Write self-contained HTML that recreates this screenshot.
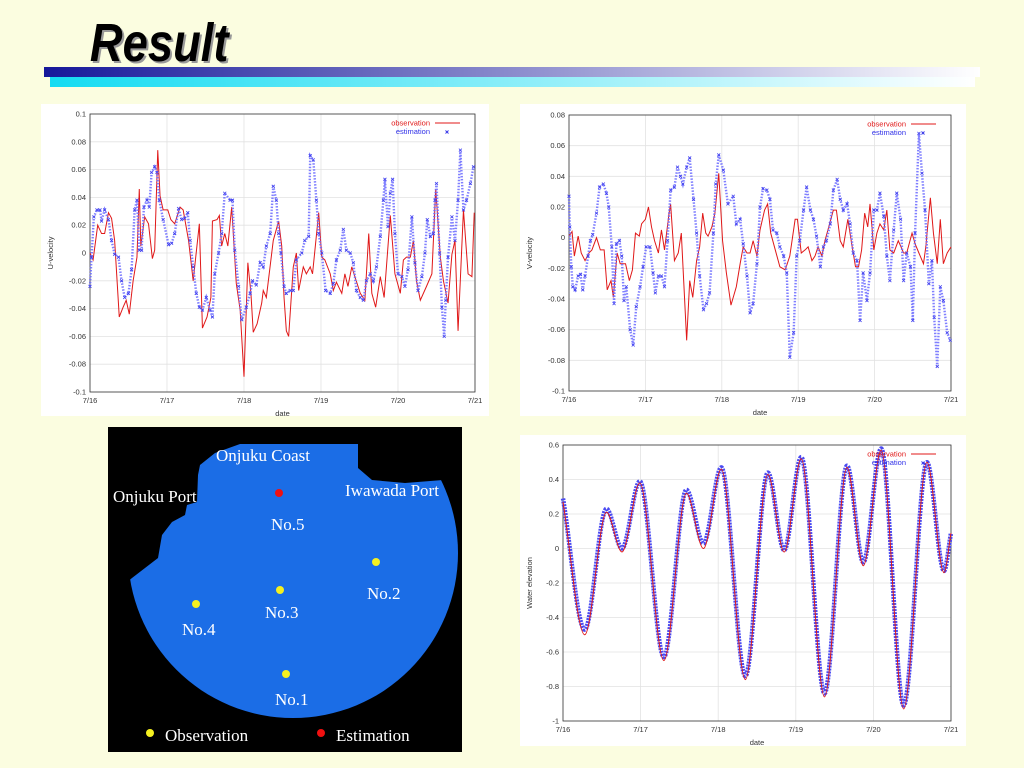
<!DOCTYPE html>
<html><head><meta charset="utf-8"><title>Result</title>
<style>
html,body{margin:0;padding:0;background:#fbfde0;}
body{width:1024px;height:768px;overflow:hidden;position:relative;font-family:"Liberation Sans",sans-serif;}
svg{position:absolute;left:0;top:0;}
</style></head>
<body>
<svg id="s" width="1024" height="768" xmlns="http://www.w3.org/2000/svg">
<defs>
<linearGradient id="gb" x1="0" x2="1"><stop offset="0" stop-color="#16189a"/><stop offset="1" stop-color="#ffffff"/></linearGradient>
<linearGradient id="gc" x1="0" x2="1"><stop offset="0" stop-color="#14dcf2"/><stop offset="1" stop-color="#ffffff"/></linearGradient>
<clipPath id="seaclip"><polygon points="198,475 200,465 215,453 240,444 358,444 358,468 372,480 405,483 443,480 470,490 470,760 100,760 100,582 127,582 132,578 158,558 162,535 172,522 185,515 187,505 197,502"/></clipPath>
</defs>
<text x="90" y="61" font-family="Liberation Sans, sans-serif" font-size="54" font-weight="bold" font-style="italic" fill="#999" transform="translate(2,2) scale(0.84,1) translate(17,0)">Result</text>
<text x="90" y="61" font-family="Liberation Sans, sans-serif" font-size="54" font-weight="bold" font-style="italic" fill="#000" transform="scale(0.84,1) translate(17,0)">Result</text>
<rect x="44" y="67" width="936" height="10" fill="url(#gb)"/>
<rect x="50" y="77" width="925" height="10" fill="url(#gc)"/>

<g>
<rect x="108" y="427" width="354" height="325" fill="#000"/>
<circle cx="293" cy="553" r="165" fill="#1b6de6" clip-path="url(#seaclip)"/>
<g font-family="Liberation Serif, serif" font-size="17" fill="#fff">
<text x="216" y="461">Onjuku Coast</text>
<text x="113" y="502">Onjuku Port</text>
<text x="345" y="496">Iwawada Port</text>
<text x="271" y="530">No.5</text>
<text x="367" y="599">No.2</text>
<text x="265" y="618">No.3</text>
<text x="182" y="635">No.4</text>
<text x="275" y="705">No.1</text>
<text x="165" y="741">Observation</text>
<text x="336" y="741">Estimation</text>
</g>
<circle cx="279" cy="493" r="4" fill="#f01010"/>
<circle cx="376" cy="562" r="4" fill="#f5f020"/>
<circle cx="280" cy="590" r="4" fill="#f5f020"/>
<circle cx="196" cy="604" r="4" fill="#f5f020"/>
<circle cx="286" cy="674" r="4" fill="#f5f020"/>
<circle cx="150" cy="733" r="4" fill="#f5f020"/>
<circle cx="321" cy="733" r="4" fill="#f01010"/>
</g>
</svg>
<script>
const dateLabels=['7/16','7/17','7/18','7/19','7/20','7/21'];
const dateTicks=[0,1,2,3,4,5];

const uTicks=[0.1,0.08,0.06,0.04,0.02,0,-0.02,-0.04,-0.06,-0.08,-0.1];
const uTickLabels=['0.1','0.08','0.06','0.04','0.02','0','-0.02','-0.04','-0.06','-0.08','-0.1'];
const uObsT=[0,.04,.10,.15,.19,.24,.28,.32,.38,.43,.47,.51,.56,.61,.64,.66,.71,.76,.81,.84,.88,.91,.95,1.01,1.05,1.10,1.17,1.21,1.28,1.34,1.42,1.46,1.52,1.57,1.59,1.65,1.68,1.71,1.75,1.79,1.84,1.90,1.95,2.00,2.05,2.09,2.12,2.17,2.23,2.25,2.29,2.38,2.45,2.49,2.52,2.55,2.58,2.64,2.68,2.71,2.77,2.81,2.86,2.89,2.97,3.01,3.05,3.12,3.16,3.20,3.27,3.31,3.35,3.40,3.44,3.51,3.57,3.62,3.66,3.71,3.77,3.82,3.90,3.96,4.03,4.07,4.11,4.16,4.20,4.24,4.29,4.37,4.44,4.49,4.55,4.59,4.65,4.70,4.74,4.78,4.85,4.91,4.96,4.99];
const uObsV=[0,-.005,.020,.014,.014,.029,.025,.009,-.046,-.039,-.034,-.044,-.020,-.003,.046,.005,.026,.021,-.004,.002,.074,.041,.031,.031,.024,.021,.033,.031,.009,-.020,.021,-.054,-.046,-.032,.023,.024,.027,.005,.014,.005,.033,-.022,-.041,-.089,-.007,-.029,-.057,-.051,-.036,-.027,-.032,.009,.023,.005,-.032,-.056,-.060,-.010,0,-.027,-.010,-.015,-.010,-.015,.029,-.003,-.005,-.015,-.027,-.021,-.029,-.015,-.024,-.010,-.017,-.029,-.034,.014,-.029,-.039,-.017,-.032,.027,-.015,-.029,-.005,-.003,-.003,.009,-.020,-.034,-.024,-.015,.046,-.003,-.020,-.036,-.001,.009,-.056,.031,-.015,-.017,.029];
const uEstT=[0,.02,.05,.09,.13,.15,.19,.24,.28,.32,.37,.41,.45,.50,.54,.58,.61,.64,.67,.70,.74,.77,.80,.84,.87,.90,.95,1.02,1.06,1.10,1.15,1.19,1.23,1.27,1.30,1.34,1.38,1.42,1.46,1.51,1.56,1.59,1.62,1.67,1.71,1.75,1.82,1.85,1.88,1.93,1.97,2.03,2.08,2.11,2.16,2.21,2.25,2.29,2.34,2.38,2.42,2.45,2.48,2.52,2.55,2.60,2.64,2.68,2.75,2.79,2.84,2.86,2.90,2.94,2.97,3.01,3.06,3.12,3.16,3.20,3.25,3.29,3.33,3.38,3.42,3.46,3.51,3.55,3.59,3.64,3.68,3.72,3.77,3.81,3.83,3.87,3.90,3.93,3.96,4.00,4.05,4.09,4.13,4.18,4.22,4.26,4.31,4.35,4.38,4.42,4.46,4.48,4.50,4.54,4.57,4.60,4.62,4.65,4.70,4.74,4.78,4.81,4.85,4.89,4.94,4.98];
const uEstV=[-.024,-.003,.026,.031,.031,.023,.031,.024,.009,-.001,-.003,-.020,-.032,-.029,-.012,.031,.038,.002,.002,.033,.038,.033,.058,.062,.058,.038,.024,.006,.007,.014,.032,.024,.025,.029,.009,-.010,-.029,-.039,-.041,-.032,-.041,-.046,-.015,0,.014,.043,.038,.038,.002,-.024,-.048,-.039,-.029,-.020,-.023,-.007,-.010,.005,.014,.048,.038,.014,0,-.024,-.029,-.027,-.027,-.005,0,.009,.012,.070,.067,.038,.014,0,-.027,-.029,-.022,-.005,.002,.017,.002,0,-.007,-.027,-.032,-.034,-.020,-.015,-.020,-.010,.012,.038,.053,.019,.043,.053,.014,-.015,-.017,-.024,-.012,.026,-.007,-.027,-.017,0,.024,.012,.014,.038,.050,0,-.039,-.060,-.034,-.003,.026,.009,.038,.074,.031,.038,.050,.062];

const vTicks=[0.08,0.06,0.04,0.02,0,-0.02,-0.04,-0.06,-0.08,-0.1];
const vTickLabels=['0.08','0.06','0.04','0.02','0','-0.02','-0.04','-0.06','-0.08','-0.1'];
const vObsT=[0,.04,.07,.12,.16,.21,.26,.30,.36,.41,.46,.50,.55,.58,.63,.67,.71,.74,.79,.83,.87,.92,.95,1.00,1.04,1.08,1.12,1.17,1.21,1.25,1.31,1.33,1.38,1.43,1.47,1.54,1.58,1.62,1.67,1.71,1.75,1.79,1.82,1.87,1.91,1.96,2.01,2.06,2.12,2.19,2.24,2.28,2.33,2.37,2.41,2.46,2.50,2.56,2.60,2.64,2.70,2.76,2.83,2.89,2.96,2.99,3.04,3.09,3.13,3.18,3.22,3.26,3.31,3.35,3.40,3.46,3.50,3.55,3.59,3.65,3.70,3.75,3.79,3.83,3.87,3.91,3.94,3.99,4.03,4.07,4.12,4.16,4.20,4.25,4.31,4.38,4.42,4.49,4.53,4.58,4.64,4.67,4.73,4.77,4.82,4.86,4.90,4.95,5];
const vObsV=[.001,.004,-.012,.001,-.010,-.015,-.010,-.008,0,-.008,-.008,-.034,-.028,-.039,-.010,-.017,-.017,-.017,-.028,-.021,.003,.001,.009,.012,.020,.007,-.002,-.010,.005,-.008,.016,.022,-.015,-.010,.003,-.067,-.028,-.039,-.015,-.006,.016,.003,.001,.007,.016,.042,-.002,-.023,-.044,-.032,-.017,-.006,-.010,-.010,-.002,-.012,.005,.018,.022,.003,-.008,-.019,-.021,-.012,.012,.012,-.010,-.008,-.006,-.015,-.012,-.006,-.012,-.002,.007,.018,.018,-.002,-.006,.012,-.004,-.019,-.019,-.008,.016,.007,.022,-.008,.003,.009,.005,.018,-.008,-.010,-.002,-.010,-.010,.003,-.004,-.010,-.017,-.006,.026,.003,-.017,.012,-.017,-.010,-.006];
const vEstT=[0,.01,.03,.05,.08,.12,.15,.18,.21,.25,.28,.31,.36,.40,.45,.49,.52,.56,.59,.62,.66,.69,.72,.75,.80,.84,.88,.93,.97,1.01,1.06,1.10,1.13,1.17,1.21,1.25,1.29,1.33,1.38,1.42,1.46,1.49,1.54,1.58,1.63,1.67,1.71,1.76,1.80,1.84,1.89,1.92,1.96,2.02,2.08,2.15,2.19,2.24,2.28,2.33,2.37,2.41,2.46,2.50,2.54,2.59,2.63,2.67,2.72,2.76,2.81,2.85,2.89,2.94,2.98,3.02,3.07,3.11,3.16,3.20,3.24,3.29,3.33,3.37,3.42,3.46,3.51,3.55,3.59,3.64,3.68,3.72,3.77,3.81,3.85,3.90,3.94,3.99,4.03,4.07,4.12,4.16,4.20,4.25,4.29,4.34,4.38,4.42,4.47,4.50,4.53,4.58,4.62,4.66,4.71,4.75,4.78,4.82,4.86,4.90,4.95,4.99];
const vEstV=[.027,.007,-.019,-.032,-.034,-.025,-.024,-.034,-.025,-.012,-.002,.002,.016,.033,.035,.029,.020,-.006,-.043,-.004,-.002,-.012,-.041,-.032,-.060,-.070,-.045,-.032,-.019,-.006,-.006,-.023,-.036,-.025,-.025,-.032,-.002,.031,.033,.046,.040,.035,.046,.052,.025,.003,-.025,-.047,-.043,-.036,.003,.035,.054,.044,.022,.027,.009,.012,-.004,-.025,-.049,-.043,-.017,.020,.032,.031,.025,.005,.003,-.006,-.012,-.023,-.078,-.062,-.012,-.002,.018,.033,.018,.012,.001,-.019,-.006,-.002,.009,.031,.038,.025,.018,.022,.009,-.010,-.015,-.054,-.023,-.041,-.023,.018,.018,.029,.014,-.012,-.028,.005,.029,.012,-.028,-.010,-.019,-.054,.003,.068,.042,.018,-.030,-.015,-.052,-.084,-.032,-.041,-.062,-.067];

const wTicks=[0.6,0.4,0.2,0,-0.2,-0.4,-0.6,-0.8,-1];
const wTickLabels=['0.6','0.4','0.2','0','-0.2','-0.4','-0.6','-0.8','-1'];
const wT=[0,.28,.56,.76,.99,1.30,1.59,1.81,2.04,2.35,2.64,2.85,3.07,3.37,3.66,3.87,4.10,4.39,4.69,4.91,5.0];
const wObsV=[.27,-.50,.21,-.02,.38,-.65,.32,.00,.46,-.76,.43,-.02,.52,-.86,.47,-.10,.57,-.93,.50,-.14,.09];
const wEstV=[.29,-.47,.23,.00,.39,-.63,.34,.03,.47,-.74,.44,-.01,.53,-.84,.48,-.08,.58,-.91,.50,-.13,.09];

const NS='http://www.w3.org/2000/svg';
const svg=document.getElementById('s');
function mk(tag,attrs,parent){const e=document.createElementNS(NS,tag);for(const k in attrs)e.setAttribute(k,attrs[k]);(parent||svg).appendChild(e);return e;}

function monoPath(xs,ys){
  const n=xs.length,d=[],m=[];
  for(let i=0;i<n-1;i++)d.push((ys[i+1]-ys[i])/(xs[i+1]-xs[i]));
  for(let i=0;i<n;i++){
    if(i===0)m.push(d[0]);else if(i===n-1)m.push(d[n-2]);
    else m.push(d[i-1]*d[i]<=0?0:(d[i-1]+d[i])/2);
  }
  let p='M'+xs[0]+','+ys[0];
  for(let i=0;i<n-1;i++){const h=xs[i+1]-xs[i];
    p+=' C'+(xs[i]+h/3)+','+(ys[i]+m[i]*h/3)+' '+(xs[i+1]-h/3)+','+(ys[i+1]-m[i+1]*h/3)+' '+xs[i+1]+','+ys[i+1];}
  return p;
}

function chart(c){
  const g=mk('g',{});
  
  
  const bg=mk('rect',{x:c.bx,y:c.by,width:c.bw,height:c.bh,fill:'#fff'},g);
  
  
  const sx=t=>c.x0+(c.x1-c.x0)*t/5;
  const sy=v=>c.y1-(c.y1-c.y0)*(v-c.ymin)/(c.ymax-c.ymin);
  c.ticks.forEach((v,i)=>{
    const y=sy(v);
    const gl=mk('line',{x1:c.x0,x2:c.x1,y1:y,y2:y,stroke:'#e2e2e2','stroke-width':0.8},g);
    
    
    const tl=mk('text',{x:c.x0-4,y:y+2.5,'font-size':7.5,'text-anchor':'end',fill:'#333'},g);
    tl.textContent=c.tickLabels[i];
    
    
  });
  dateTicks.forEach((t,i)=>{
    const x=sx(t);
    const gl=mk('line',{x1:x,x2:x,y1:c.y0,y2:c.y1,stroke:'#e2e2e2','stroke-width':0.8},g);
    
    
    const tl=mk('text',{x:x,y:c.y1+11,'font-size':7.5,'text-anchor':'middle',fill:'#333'},g);
    tl.textContent=dateLabels[i];
    
    
  });
  const fr=mk('rect',{x:c.x0,y:c.y0,width:c.x1-c.x0,height:c.y1-c.y0,fill:'none',stroke:'#333','stroke-width':0.8},g);
  
  
  const xt=mk('text',{x:(c.x0+c.x1)/2,y:c.y1+24,'font-size':7.5,'text-anchor':'middle',fill:'#333'},g);
  xt.textContent='date';
  
  
  const yx=c.bx+12, yy=(c.y0+c.y1)/2;
  const yt=mk('text',{x:yx,y:yy,'font-size':7.5,'text-anchor':'middle',fill:'#333',transform:'rotate(-90 '+yx+' '+yy+')'},g);
  yt.textContent=c.ytitle;
  
  

  const ex=c.estT.map(sx), ey=c.estV.map(sy);
  const ox=c.obsT.map(sx), oy=c.obsV.map(sy);
  if(c.smooth){
    const est=mk('path',{d:monoPath(ex,ey),fill:'none',stroke:'#4a4af2','stroke-width':4.5,'stroke-dasharray':'2 1'},g);
    
    
    const ob=mk('path',{d:monoPath(ox,oy),fill:'none',stroke:'#e01818','stroke-width':1},g);
    
    
  } else {
    const ob=mk('polyline',{points:ox.map((x,i)=>x+','+oy[i]).join(' '),fill:'none',stroke:'#e01818','stroke-width':1},g);
    
    
    const est=mk('polyline',{points:ex.map((x,i)=>x+','+ey[i]).join(' '),fill:'none',stroke:'#6a6aff','stroke-width':2.4,'stroke-dasharray':'1.5 1.5','stroke-opacity':0.85},g);
    
    
    ex.forEach((x,i)=>{
      const y=ey[i];
      const m=mk('path',{d:'M'+(x-1.5)+','+(y-1.5)+'L'+(x+1.5)+','+(y+1.5)+'M'+(x-1.5)+','+(y+1.5)+'L'+(x+1.5)+','+(y-1.5),stroke:'#4040ee','stroke-width':0.8},g);
      
      
    });
  }
  const lx=c.x1-40, ly=c.y0+9;
  const l1=mk('text',{x:lx-5,y:ly+2.5,'font-size':7.5,'text-anchor':'end',fill:'#e01818'},g);
  l1.textContent='observation';
  
  
  const ll=mk('line',{x1:lx,x2:lx+25,y1:ly,y2:ly,stroke:'#e01818','stroke-width':1},g);
  
  
  const l2=mk('text',{x:lx-5,y:ly+11,'font-size':7.5,'text-anchor':'end',fill:'#3030e8'},g);
  l2.textContent='estimation';
  
  
  const mx=lx+12, my=ly+9;
  const lm=mk('path',{d:'M'+(mx-1.5)+','+(my-1.5)+'L'+(mx+1.5)+','+(my+1.5)+'M'+(mx-1.5)+','+(my+1.5)+'L'+(mx+1.5)+','+(my-1.5),stroke:'#3030e8','stroke-width':0.9},g);
  
  
}

chart({name:'u-velocity-chart',bx:41,by:104,bw:448,bh:312,x0:90,x1:475,y0:114,y1:392,ymin:-0.1,ymax:0.1,ticks:uTicks,tickLabels:uTickLabels,ytitle:'U-velocity',obsT:uObsT,obsV:uObsV,estT:uEstT,estV:uEstV});
chart({name:'v-velocity-chart',bx:520,by:104,bw:446,bh:312,x0:569,x1:951,y0:115,y1:391,ymin:-0.1,ymax:0.08,ticks:vTicks,tickLabels:vTickLabels,ytitle:'V-velocity',obsT:vObsT,obsV:vObsV,estT:vEstT,estV:vEstV});
chart({name:'water-elevation-chart',bx:520,by:435,bw:446,bh:311,x0:563,x1:951,y0:445,y1:721,ymin:-1,ymax:0.6,ticks:wTicks,tickLabels:wTickLabels,ytitle:'Water elevation',obsT:wT,obsV:wObsV,estT:wT,estV:wEstV,smooth:true});
</script>
</body></html>
